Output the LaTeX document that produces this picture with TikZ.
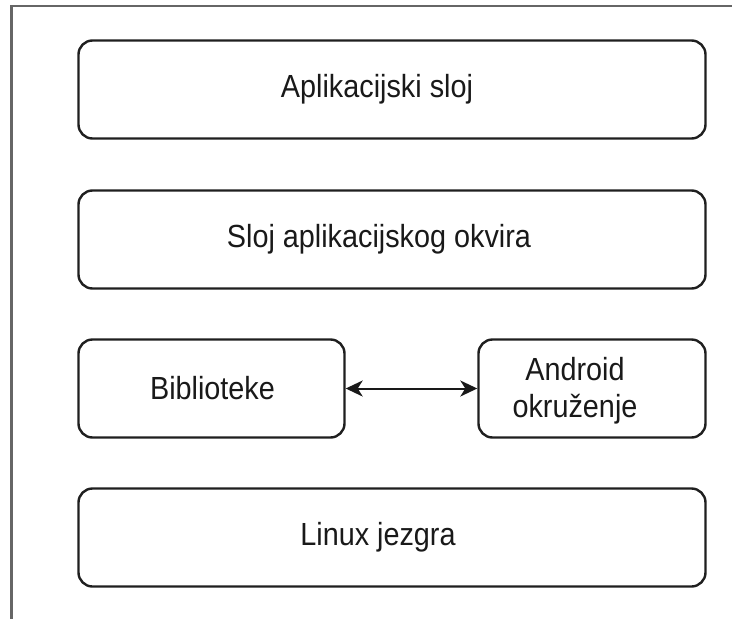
\documentclass[tikz,border=0pt]{standalone}
\usepackage{fontspec}
\newfontfamily\lab[FakeStretch=0.9]{Liberation Sans}
\usetikzlibrary{arrows.meta}
\begin{document}
\begin{tikzpicture}[x=1pt,y=-1pt,
  box/.style={draw=black!88, line width=2.4pt, rounded corners=14pt, inner sep=0pt},
  txt/.style={font=\lab\fontsize{32}{37}\selectfont, align=center, text=black!90},
  link/.style={line width=2pt, draw=black!90, {Stealth[length=17pt,width=16pt,inset=5pt]}-{Stealth[length=17pt,width=16pt,inset=5pt]}}]
\useasboundingbox (0,0) rectangle (732,619);
\draw[line width=2.6pt, draw=black!60] (11.5,625) coordinate (fb) -- (11.5,6) coordinate (fc) -- (740,6) coordinate (fr);
\node[box, minimum width=627pt, minimum height=98pt, label={[txt, xshift=-15pt]center:Aplikacijski sloj}] (app) at (392,89.5) {};
\node[box, minimum width=627pt, minimum height=98pt, label={[txt, xshift=-13pt]center:Sloj aplikacijskog okvira}] (fw) at (392,239.5) {};
\node[box, minimum width=266pt, minimum height=98pt, label={[txt, xshift=1pt]center:Biblioteke}] (lib) at (211.5,388.5) {};
\node[box, minimum width=227pt, minimum height=98pt, label={[txt, xshift=-17pt, yshift=-2pt]center:Android\\okruženje}] (and) at (592,388.5) {};
\node[box, minimum width=627pt, minimum height=98pt, label={[txt, xshift=-14pt]center:Linux jezgra}] (lin) at (392,537.5) {};
\draw[link] (lib.east) -- (and.west);
\end{tikzpicture}
\end{document}
